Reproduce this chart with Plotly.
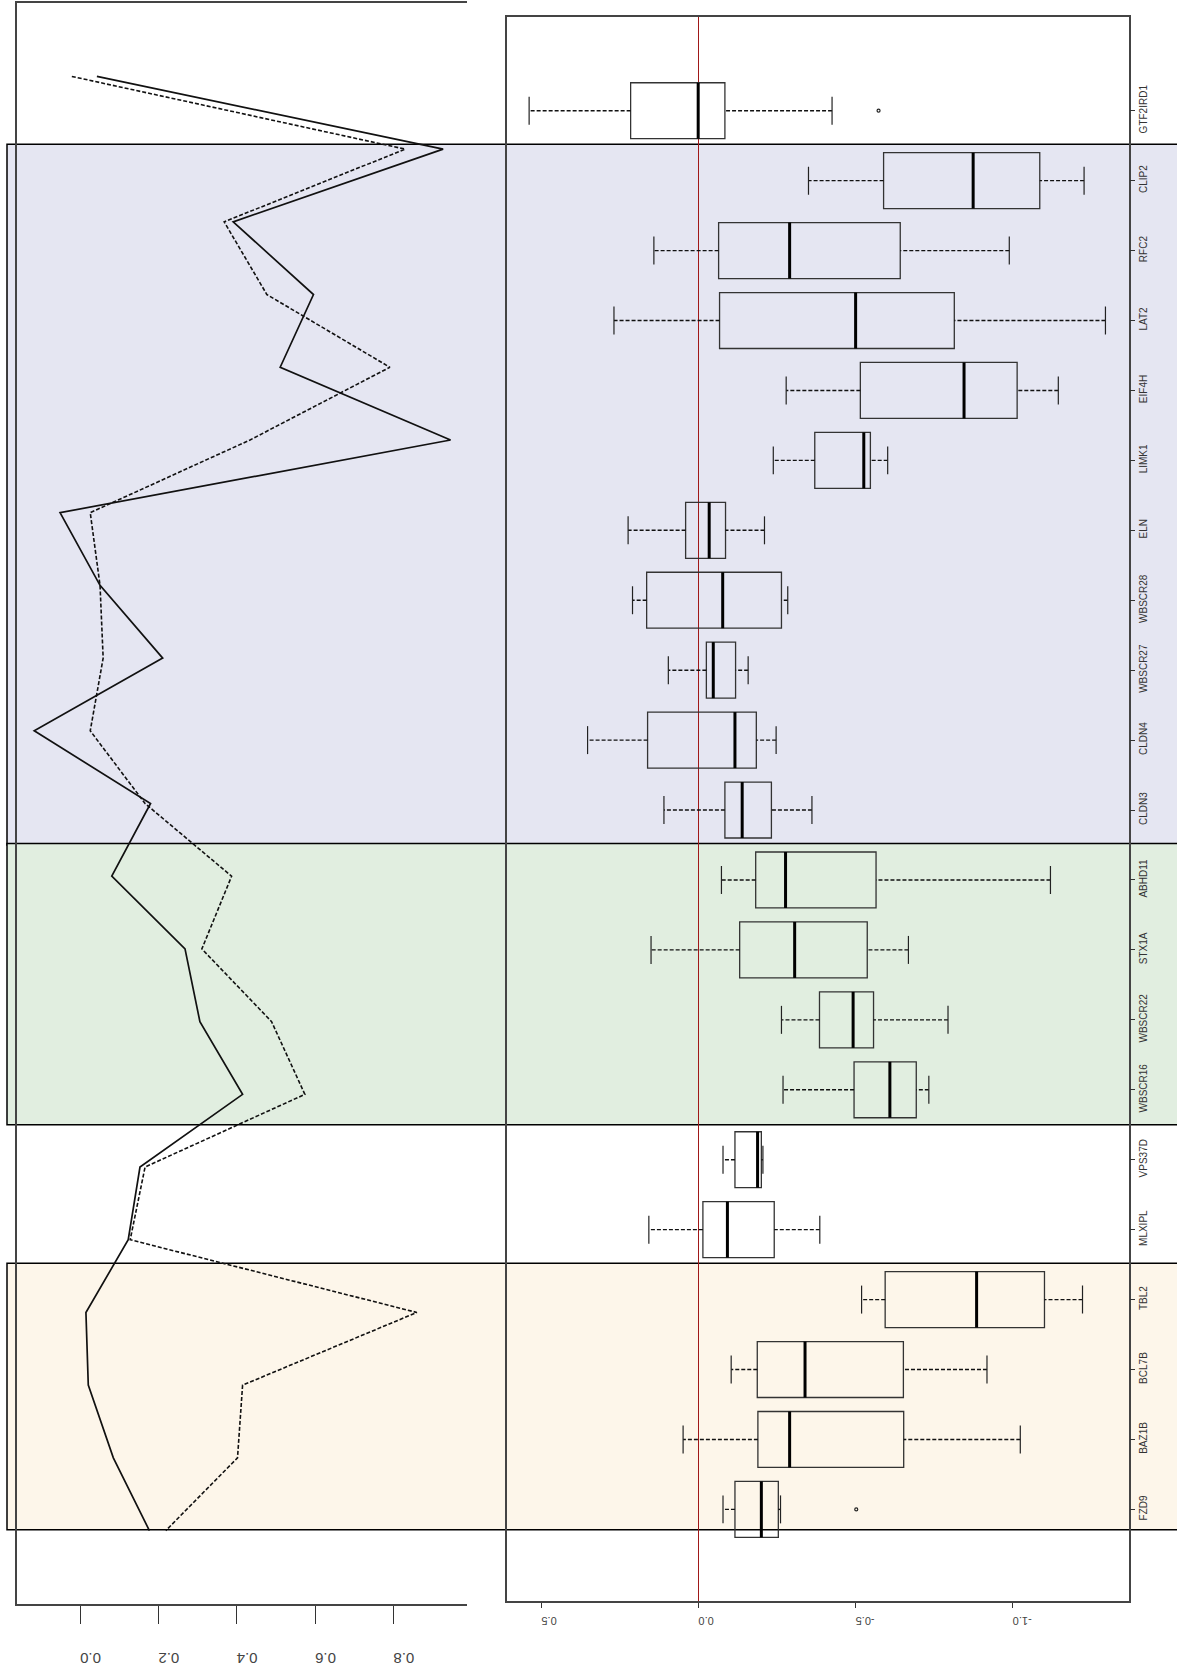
import plotly.graph_objects as go

# genes, top to bottom
genes = ["GTF2IRD1", "CLIP2", "RFC2", "LAT2", "EIF4H", "LIMK1", "ELN", "WBSCR28",
         "WBSCR27", "CLDN4", "CLDN3", "ABHD11", "STX1A", "WBSCR22", "WBSCR16",
         "VPS37D", "MLXIPL", "TBL2", "BCL7B", "BAZ1B", "FZD9"]

# left panel: two profiles (solid / dashed)
solid_vals = [0.043, 0.927, 0.391, 0.596, 0.511, 0.946, -0.051, 0.051, 0.211, -0.117,
              0.180, 0.081, 0.268, 0.306, 0.415, 0.153, 0.123, 0.015, 0.021, 0.085, 0.177]
dashed_vals = [-0.021, 0.830, 0.368, 0.477, 0.791, 0.434, 0.026, 0.051, 0.059, 0.026,
               0.166, 0.387, 0.311, 0.489, 0.574, 0.166, 0.128, 0.860, 0.415, 0.402, 0.219]

# right panel: box statistics
box_min = [-0.425, -1.227, -0.989, -1.295, -1.145, -0.602, -0.210, -0.284, -0.158, -0.247,
           -0.361, -1.120, -0.668, -0.794, -0.733, -0.205, -0.386, -1.222, -0.918, -1.024, -0.261]
box_q1 = [-0.084, -1.086, -0.642, -0.814, -1.014, -0.547, -0.086, -0.264, -0.118, -0.184,
          -0.232, -0.565, -0.537, -0.557, -0.693, -0.200, -0.241, -1.101, -0.652, -0.653, -0.254]
box_med = [0.001, -0.874, -0.290, -0.500, -0.845, -0.526, -0.034, -0.077, -0.047, -0.116,
           -0.139, -0.277, -0.306, -0.492, -0.609, -0.188, -0.092, -0.885, -0.339, -0.290, -0.200]
box_q3 = [0.216, -0.589, -0.064, -0.067, -0.515, -0.370, 0.041, 0.165, -0.025, 0.162,
          -0.084, -0.182, -0.131, -0.385, -0.495, -0.116, -0.014, -0.594, -0.187, -0.189, -0.116]
box_max = [0.539, -0.350, 0.142, 0.269, -0.279, -0.238, 0.224, 0.210, 0.096, 0.353,
           0.110, -0.073, 0.151, -0.264, -0.269, -0.078, 0.158, -0.519, -0.104, 0.049, -0.078]
outlier_gene = ["GTF2IRD1", "FZD9"]
outlier_val = [-0.573, -0.502]

# highlighted gene groups: (first gene, last gene, fill)
groups = [("CLIP2", "CLDN3", "#e5e6f2"),
          ("ABHD11", "WBSCR16", "#e1eee0"),
          ("TBL2", "FZD9", "#fdf6ea")]

W, H = 1177, 1668
pos = list(range(len(genes)))
idx = {g: i for i, g in enumerate(genes)}

fig = go.Figure()

# ---- left panel: profiles
fig.add_trace(go.Scatter(x=solid_vals, y=pos, mode="lines",
                         line=dict(color="#111", width=1.7),
                         xaxis="x", yaxis="y", hoverinfo="skip", showlegend=False))
fig.add_trace(go.Scatter(x=dashed_vals, y=pos, mode="lines",
                         line=dict(color="#111", width=1.6, dash="4px,2px"),
                         xaxis="x", yaxis="y", hoverinfo="skip", showlegend=False))

# ---- right panel: boxplots
fig.add_trace(go.Box(y=pos, q1=box_q1, median=box_med, q3=box_q3,
                     lowerfence=box_q1, upperfence=box_q3, orientation="h",
                     width=0.8, whiskerwidth=0, boxpoints=False,
                     fillcolor="rgba(0,0,0,0)", line=dict(color="#333", width=1.3),
                     xaxis="x2", yaxis="y2", hoverinfo="skip", showlegend=False))

wx, wy, sx, sy, mx, my = [], [], [], [], [], []
for i in pos:
    wx += [box_min[i], box_q1[i], None, box_q3[i], box_max[i], None]
    wy += [i, i, None, i, i, None]
    for v in (box_min[i], box_max[i]):
        sx += [v, v, None]
        sy += [i - 0.2, i + 0.2, None]
    mx += [box_med[i], box_med[i], None]
    my += [i - 0.4, i + 0.4, None]

fig.add_trace(go.Scatter(x=wx, y=wy, mode="lines",
                         line=dict(color="#111", width=1.4, dash="4px,2px"),
                         xaxis="x2", yaxis="y2", hoverinfo="skip", showlegend=False))
fig.add_trace(go.Scatter(x=sx, y=sy, mode="lines", line=dict(color="#222", width=1.2),
                         xaxis="x2", yaxis="y2", hoverinfo="skip", showlegend=False))
fig.add_trace(go.Scatter(x=mx, y=my, mode="lines", line=dict(color="#000", width=3),
                         xaxis="x2", yaxis="y2", hoverinfo="skip", showlegend=False))
fig.add_trace(go.Scatter(x=outlier_val, y=[idx[g] for g in outlier_gene], mode="markers",
                         marker=dict(symbol="circle-open", size=3, color="#222",
                                     line=dict(width=1.2)),
                         xaxis="x2", yaxis="y2", hoverinfo="skip", showlegend=False))

# ---- shaded groups spanning both panels
shapes = []
for g0, g1, col in groups:
    top = idx[g0] - 0.52
    bot = idx[g1] + 0.5 if g1 != "FZD9" else idx[g1] + 0.29
    shapes.append(dict(type="rect", xref="paper", yref="y2", x0=7 / W, x1=1.01,
                       y0=top, y1=bot, fillcolor=col, layer="below",
                       line=dict(color="#000", width=1.5)))
# zero reference line
shapes.append(dict(type="line", xref="x2", yref="y2 domain", x0=0, x1=0, y0=0, y1=1,
                   line=dict(color="#a01818", width=1), layer="below"))

fig.update_layout(
    width=W, height=H, margin=dict(l=0, r=0, t=0, b=0),
    paper_bgcolor="white", plot_bgcolor="rgba(0,0,0,0)",
    shapes=shapes,
    xaxis=dict(domain=[17 / W, 467 / W], range=[-0.161, 0.988],
               tickvals=[0, 0.2, 0.4, 0.6, 0.8],
               ticktext=["0.0", "0.2", "0.4", "0.6", "0.8"],
               tickangle=180, ticks="outside", ticklen=18, tickwidth=1.3, tickcolor="#333",
               ticklabelstandoff=26,
               showline=True, mirror=True, linecolor="#444", linewidth=1.5,
               showgrid=False, zeroline=False, automargin=False,
               tickfont=dict(family="Liberation Sans", size=15, color="#444"),
               anchor="y"),
    yaxis=dict(domain=[1 - 1604 / H, 1 - 3 / H], range=[21.01, -1.01],
               showticklabels=False, ticks="", showline=True, linecolor="#444",
               linewidth=1.5, showgrid=False, zeroline=False, automargin=False,
               anchor="x"),
    xaxis2=dict(domain=[506.5 / W, 1128.7 / W], range=[0.611, -1.369],
                tickvals=[0.5, 0.0, -0.5, -1.0], ticktext=["0.5", "0.0", "-0.5", "-1.0"],
                tickangle=180, ticks="outside", ticklen=5, tickwidth=1.2, tickcolor="#333",
                ticklabelstandoff=7,
                showline=True, mirror=True, linecolor="#444", linewidth=1.5,
                showgrid=False, zeroline=False, automargin=False,
                tickfont=dict(family="Liberation Sans", size=11, color="#444"),
                anchor="y2"),
    yaxis2=dict(domain=[1 - 1601 / H, 1 - 17 / H], range=[21.31, -1.34],
                tickvals=pos, ticktext=genes, side="right", tickangle=-90,
                ticks="outside", ticklen=5, tickwidth=1.2, tickcolor="#333",
                showline=True, mirror=True, linecolor="#444", linewidth=1.5,
                showgrid=False, zeroline=False, automargin=False,
                tickfont=dict(family="Liberation Sans", size=10, color="#333"),
                anchor="x2"),
)

# the page's default body margin would push the figure 8px off the corner
fig.write_html("out.html", config={"displayModeBar": False},
               post_script="document.body.style.margin='0';")
